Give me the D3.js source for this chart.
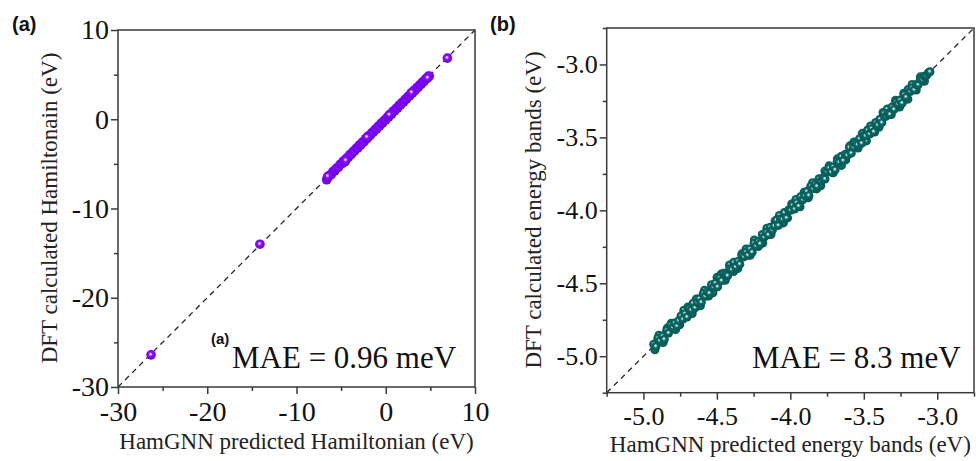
<!DOCTYPE html>
<html>
<head>
<meta charset="utf-8">
<script src="https://cdn.jsdelivr.net/npm/d3@7"></script>
<style>
  html, body { margin: 0; padding: 0; background: #fff; }
  svg { display: block; }
</style>
</head>
<body>
<div id="chart"></div>
<script>
// ---- Panel (a): Hamiltonian matrix elements (eV) ----
const hamPred = [-26.3, -14.1, 6.9,
  -6.62, -6.48, -6.35, -6.10, -5.92, -5.70, -5.55, -5.30, -5.12, -4.90, -4.75, -4.55, -4.40, -4.20,
  -4.02, -3.85, -3.66, -3.50, -3.30, -3.12, -2.95, -2.78, -2.60, -2.42, -2.25, -2.05, -1.90, -1.72,
  -1.55, -1.38, -1.20, -1.02, -0.86, -0.70, -0.52, -0.35, -0.18, 0.00, 0.15, 0.32, 0.50, 0.66,
  0.82, 1.00, 1.16, 1.33, 1.50, 1.66, 1.82, 2.00, 2.16, 2.32, 2.50, 2.66, 2.82, 3.00, 3.15, 3.30,
  3.48, 3.64, 3.80, 3.96, 4.12, 4.28, 4.44, 4.60, 4.75, 4.88,
  -6.50, -4.65, -4.48, -2.10, 0.40, 2.90, 4.70];
const hamDft = [-26.4, -14.0, 6.85,
  -6.78, -6.55, -6.32, -6.20, -5.85, -5.78, -5.50, -5.40, -5.05, -4.98, -4.68, -4.72, -4.35, -4.28,
  -3.96, -3.92, -3.60, -3.58, -3.24, -3.20, -2.88, -2.86, -2.55, -2.50, -2.18, -2.13, -1.84, -1.80,
  -1.50, -1.45, -1.13, -1.10, -0.80, -0.78, -0.45, -0.42, -0.12, -0.08, 0.22, 0.25, 0.56, 0.58,
  0.90, 0.93, 1.22, 1.26, 1.57, 1.60, 1.88, 1.93, 2.23, 2.26, 2.56, 2.60, 2.88, 2.94, 3.22, 3.25,
  3.54, 3.58, 3.86, 3.90, 4.18, 4.22, 4.50, 4.55, 4.80, 4.84,
  -6.40, -4.80, -4.62, -2.00, 0.50, 3.00, 4.64];

// ---- Panel (b): band energies (eV), outer scatter then core of the band ----
const bandPredOuter = [
  -4.922, -4.895, -4.866, -4.838, -4.810, -4.781, -4.753, -4.725, -4.697, -4.668,
  -4.640, -4.612, -4.584, -4.556, -4.527, -4.499, -4.471, -4.443, -4.414, -4.386,
  -4.358, -4.330, -4.301, -4.273, -4.245, -4.217, -4.188, -4.160, -4.132, -4.104,
  -4.075, -4.047, -4.019, -3.991, -3.962, -3.934, -3.906, -3.878, -3.849, -3.821,
  -3.793, -3.765, -3.736, -3.708, -3.680, -3.652, -3.623, -3.595, -3.567, -3.539,
  -3.510, -3.482, -3.454, -3.426, -3.397, -3.369, -3.341, -3.313, -3.284, -3.256,
  -3.228, -3.200, -3.171, -3.143, -3.115, -3.087];
const bandDftOuter = [
  -4.956, -4.857, -4.906, -4.807, -4.774, -4.818, -4.785, -4.684, -4.662, -4.707,
  -4.607, -4.654, -4.547, -4.587, -4.565, -4.459, -4.437, -4.479, -4.375, -4.419,
  -4.399, -4.298, -4.265, -4.308, -4.203, -4.247, -4.225, -4.122, -4.166, -4.073,
  -4.035, -4.086, -4.052, -3.956, -3.925, -3.975, -3.876, -3.914, -3.810, -3.853,
  -3.831, -3.731, -3.695, -3.743, -3.647, -3.692, -3.654, -3.558, -3.531, -3.573,
  -3.472, -3.524, -3.422, -3.463, -3.430, -3.329, -3.306, -3.343, -3.245, -3.292,
  -3.197, -3.238, -3.137, -3.175, -3.085, -3.115];
const bandPred = [
  -4.930, -4.915, -4.902, -4.888, -4.870, -4.858, -4.842, -4.829, -4.815, -4.800,
  -4.787, -4.771, -4.760, -4.744, -4.731, -4.717, -4.703, -4.690, -4.675, -4.662,
  -4.648, -4.633, -4.620, -4.606, -4.592, -4.579, -4.565, -4.551, -4.537, -4.523,
  -4.510, -4.495, -4.482, -4.468, -4.455, -4.440, -4.427, -4.413, -4.399, -4.385,
  -4.372, -4.357, -4.344, -4.330, -4.316, -4.302, -4.289, -4.275, -4.260, -4.247,
  -4.233, -4.219, -4.206, -4.191, -4.178, -4.164, -4.150, -4.137, -4.122, -4.109,
  -4.095, -4.081, -4.068, -4.053, -4.040, -4.026, -4.012, -3.998, -3.985, -3.971,
  -3.957, -3.943, -3.930, -3.915, -3.902, -3.888, -3.874, -3.861, -3.846, -3.833,
  -3.819, -3.805, -3.791, -3.778, -3.764, -3.750, -3.736, -3.723, -3.708, -3.695,
  -3.681, -3.667, -3.653, -3.640, -3.626, -3.612, -3.598, -3.585, -3.570, -3.557,
  -3.543, -3.529, -3.515, -3.502, -3.488, -3.474, -3.460, -3.447, -3.432, -3.419,
  -3.405, -3.391, -3.377, -3.364, -3.350, -3.336, -3.322, -3.309, -3.294, -3.281,
  -3.267, -3.253, -3.239, -3.226, -3.212, -3.198, -3.184, -3.171, -3.156, -3.143,
  -3.129, -3.115, -3.101, -3.088, -3.074, -3.060, -3.050];
const bandDft = [
  -4.918, -4.933, -4.877, -4.893, -4.862, -4.884, -4.823, -4.841, -4.787, -4.802,
  -4.772, -4.793, -4.756, -4.723, -4.746, -4.708, -4.731, -4.673, -4.683, -4.636,
  -4.668, -4.630, -4.606, -4.630, -4.570, -4.589, -4.559, -4.568, -4.510, -4.527,
  -4.499, -4.524, -4.464, -4.482, -4.431, -4.440, -4.448, -4.400, -4.406, -4.356,
  -4.388, -4.350, -4.369, -4.310, -4.319, -4.286, -4.308, -4.265, -4.287, -4.224,
  -4.244, -4.214, -4.229, -4.165, -4.184, -4.152, -4.168, -4.116, -4.135, -4.107,
  -4.067, -4.103, -4.060, -4.062, -4.015, -4.052, -3.997, -3.999, -3.966, -3.991,
  -3.948, -3.971, -3.906, -3.927, -3.898, -3.871, -3.898, -3.834, -3.851, -3.822,
  -3.835, -3.783, -3.799, -3.778, -3.785, -3.736, -3.710, -3.738, -3.702, -3.722,
  -3.663, -3.670, -3.630, -3.659, -3.616, -3.623, -3.569, -3.608, -3.567, -3.541,
  -3.550, -3.509, -3.540, -3.489, -3.490, -3.449, -3.477, -3.440, -3.461, -3.398,
  -3.415, -3.376, -3.399, -3.336, -3.356, -3.335, -3.342, -3.292, -3.308, -3.257,
  -3.271, -3.244, -3.265, -3.207, -3.224, -3.171, -3.185, -3.159, -3.174, -3.138,
  -3.138, -3.101, -3.105, -3.080, -3.076, -3.057, -3.050];

// ---- Axis ticks and labels ----
const hamDomain = [-30, 10];
const hamTicks = [-30, -20, -10, 0, 10];
const hamMinor = [-25, -15, -5, 5];
const bandDomain = [-5.25, -2.75];
const bandTicks = [-5.0, -4.5, -4.0, -3.5, -3.0];
const bandMinor = [-5.25, -4.75, -4.25, -3.75, -3.25, -2.75];

const W = 976, H = 461;
const serif = "'Liberation Serif', 'Times New Roman', serif";
const sans = "'Liberation Sans', Arial, sans-serif";

const svg = d3.select("#chart").append("svg")
  .attr("width", W).attr("height", H)
  .style("background", "#fff");

const defs = svg.append("defs");
function sphere(id, stops) {
  const g = defs.append("radialGradient").attr("id", id)
    .attr("cx", "0.48").attr("cy", "0.46").attr("r", "0.55")
    .attr("fx", "0.45").attr("fy", "0.42");
  stops.forEach(([o, c]) => g.append("stop").attr("offset", o).attr("stop-color", c));
}
sphere("ballA", [[0, "#f6efff"], [0.16, "#d2b0ff"], [0.38, "#8a14ff"], [0.75, "#7a00f6"], [1, "#6500d4"]]);
sphere("ballB", [[0, "#e8f1f0"], [0.16, "#b5d0cd"], [0.40, "#0c6a65"], [1, "#005651"]]);

function panel(cfg) {
  const x = d3.scaleLinear().domain(cfg.domain).range([cfg.left, cfg.right]);
  const y = d3.scaleLinear().domain(cfg.domain).range([cfg.bottom, cfg.top]);
  const g = svg.append("g");

  // diagonal reference line y = x
  g.append("line")
    .attr("x1", x(cfg.domain[0])).attr("y1", y(cfg.domain[0]))
    .attr("x2", x(cfg.domain[1])).attr("y2", y(cfg.domain[1]))
    .attr("stroke", "#222").attr("stroke-width", 1.3)
    .attr("stroke-dasharray", "5.5,4.5");

  // scatter points
  const pts = cfg.px.map((v, i) => [v, cfg.py[i]]);
  g.append("g").selectAll("circle").data(pts).join("circle")
    .attr("cx", d => x(d[0])).attr("cy", d => y(d[1]))
    .attr("r", cfg.r).attr("fill", cfg.fill);

  // frame
  g.append("rect")
    .attr("x", cfg.left).attr("y", cfg.top)
    .attr("width", cfg.right - cfg.left).attr("height", cfg.bottom - cfg.top)
    .attr("fill", "none").attr("stroke", "#3a3a3a").attr("stroke-width", 1.5);

  // axes: major ticks with labels, minor ticks without
  const styleAxis = (sel, size) => {
    sel.select(".domain").remove();
    sel.selectAll(".tick line").attr("stroke", "#3a3a3a").attr("stroke-width", 1.5);
    sel.selectAll(".tick text").attr("fill", "#111")
      .style("font-family", serif).style("font-size", size + "px");
  };
  const xa = g.append("g").attr("transform", `translate(0,${cfg.bottom})`)
    .call(d3.axisBottom(x).tickValues(cfg.ticks).tickSize(7).tickPadding(7).tickFormat(cfg.fmt));
  styleAxis(xa, cfg.fs);
  const xm = g.append("g").attr("transform", `translate(0,${cfg.bottom})`)
    .call(d3.axisBottom(x).tickValues(cfg.minor).tickSize(4).tickFormat(""));
  styleAxis(xm, cfg.fs);
  const ya = g.append("g").attr("transform", `translate(${cfg.left},0)`)
    .call(d3.axisLeft(y).tickValues(cfg.ticks).tickSize(7).tickPadding(2).tickFormat(cfg.fmt));
  styleAxis(ya, cfg.fs);
  const ym = g.append("g").attr("transform", `translate(${cfg.left},0)`)
    .call(d3.axisLeft(y).tickValues(cfg.minor).tickSize(4).tickFormat(""));
  styleAxis(ym, cfg.fs);

  // axis titles
  g.append("text").attr("x", (cfg.left + cfg.right) / 2).attr("y", cfg.xTitleY)
    .attr("text-anchor", "middle").attr("fill", "#222")
    .style("font-family", serif).style("font-size", "23px").text(cfg.xTitle);
  g.append("text")
    .attr("transform", `translate(${cfg.yTitleX},${cfg.yTitleCY}) rotate(-90)`)
    .attr("text-anchor", "middle").attr("fill", "#222")
    .style("font-family", serif).style("font-size", "23px").text(cfg.yTitle);

  // MAE annotation
  g.append("text").attr("x", cfg.maeX).attr("y", 368)
    .attr("fill", "#111").style("font-family", serif).style("font-size", "31px")
    .text(cfg.mae);

  // panel label
  g.append("text").attr("x", cfg.labelX).attr("y", 31)
    .attr("fill", "#111").style("font-family", sans).style("font-weight", "bold")
    .style("font-size", "20px").text(cfg.label);
  return g;
}

const ga = panel({
  domain: hamDomain, ticks: hamTicks, minor: hamMinor, fmt: d => String(d),
  left: 118, right: 475, top: 30, bottom: 387, fs: 28,
  px: hamPred, py: hamDft, r: 4.8, fill: "url(#ballA)",
  xTitle: "HamGNN predicted Hamiltonian (eV)", xTitleY: 449,
  yTitle: "DFT calculated Hamiltonain (eV)", yTitleX: 57, yTitleCY: 208,
  mae: "MAE = 0.96 meV", maeX: 232, label: "(a)", labelX: 12
});
ga.append("text").attr("x", 211).attr("y", 344)
  .attr("fill", "#111").style("font-family", sans).style("font-weight", "bold")
  .style("font-size", "15px").text("(a)");

panel({
  domain: bandDomain, ticks: bandTicks, minor: bandMinor, fmt: d => d.toFixed(1),
  left: 606.7, right: 974, top: 28, bottom: 392.7, fs: 26,
  px: bandPredOuter.concat(bandPred), py: bandDftOuter.concat(bandDft),
  r: 4.5, fill: "url(#ballB)",
  xTitle: "HamGNN predicted energy bands (eV)", xTitleY: 452,
  yTitle: "DFT calculated energy bands (eV)", yTitleX: 541, yTitleCY: 210,
  mae: "MAE = 8.3 meV", maeX: 752, label: "(b)", labelX: 490
});
</script>
</body>
</html>
